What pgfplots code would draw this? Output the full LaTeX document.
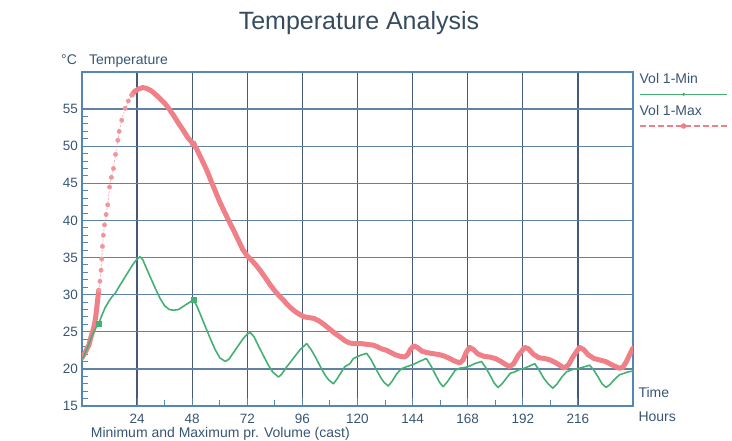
\documentclass[border=0pt]{standalone}
\usepackage{pgfplots}
\pgfplotsset{compat=1.18}
\usepackage{fontspec}
\setmainfont{Liberation Sans}
\definecolor{txt}{RGB}{55,85,115}
\definecolor{ttl}{RGB}{55,75,95}
\definecolor{frame}{RGB}{85,135,180}
\definecolor{vgrid}{RGB}{70,90,120}
\definecolor{hgrid}{RGB}{95,130,165}
\definecolor{mincol}{RGB}{70,175,115}
\definecolor{maxcol}{RGB}{240,128,136}
\begin{document}
\begin{tikzpicture}
\begin{axis}[
  scale only axis, width=551pt, height=334pt,
  at={(0,0)}, anchor=south west,
  xmin=0, xmax=240, ymin=15, ymax=60,
  xtick={24,48,...,216}, ytick={15,20,...,55},
  minor x tick num=1, minor y tick num=4,
  tick align=inside, tick pos=left,
  major tick length=8pt, minor tick length=6pt,
  grid=major,
  x grid style={vgrid, line width=1.25pt},
  y grid style={hgrid, line width=1.25pt},
  axis line style={frame, line width=1.4pt},
  tick style={frame, line width=1pt},
  /pgf/number format/assume math mode=true,
  ticklabel style={font=\fontsize{13.5}{16}\selectfont, text=txt, inner sep=0pt},
  xticklabel style={anchor=base, yshift=-18pt},
  yticklabel style={anchor=east, xshift=-4pt},
  legend style={at={(1.0109,1.002)}, anchor=north west, draw=none, fill=none,
    inner sep=0pt, outer sep=0pt, nodes={inner sep=0pt}, column sep=0pt},
]
% Vol 1-Max (red), rising part thick
\addplot[forget plot, maxcol, line width=5pt, line join=round, line cap=round] table {
x y
0 21.5
1 22.0
2 22.6
3 23.2
4 24.4
5 25.4
5.6 26.3
6.1 27.3
6.4 28.2
6.7 29.0
7.0 29.8
7.3 30.6
};
% sparse part with marks
\addplot[forget plot, maxcol!80, line width=0.6pt, dash pattern=on 2pt off 1.5pt, mark=*, mark size=2.1pt, mark options={solid, fill=maxcol!85, draw=none}] table {
x y
7.3 30.6
7.8 31.8
8.3 33.3
8.6 34.8
8.9 36.5
9.3 38.0
9.8 39.4
10.5 40.8
11.2 42.1
12 44.5
12.8 45.8
13.7 47.0
14.6 48.9
15.6 50.8
16.2 52.0
17.3 53.5
18.8 55.1
20.2 56.1
21.7 56.9
};
\addplot[forget plot, maxcol, line width=5pt, line join=round, line cap=round] table {
x y
21.7 56.9
23 57.4
24.5 57.7
26.5 57.9
28 57.8
30 57.5
32 57.0
34 56.4
36 55.8
38 55.0
40 54.1
42 53.1
44 52.2
46 51.2
48.5 50.3
50 49.6
52 48.3
54.3 46.8
56 45.5
58 44.0
60 42.5
62 41.2
64 39.9
66 38.7
68 37.4
70 36.1
72 35.2
74 34.6
76 33.9
78 33.1
80.5 32.0
82 31.3
84 30.5
86 29.8
87.7 29.3
89 28.8
91 28.2
93 27.7
95 27.3
97 27.0
99 26.9
101 26.8
103 26.5
104.5 26.2
106.6 25.7
108.5 25.2
110.5 24.7
112.4 24.3
114.5 23.8
116.5 23.5
118.2 23.4
120 23.4
122 23.4
124 23.3
126.9 23.2
128.5 23.0
130.5 22.7
132.7 22.5
134.5 22.2
136.5 21.9
138.5 21.7
140.5 21.6
141.8 21.9
143 22.6
144.5 23.1
146 22.9
148 22.4
150 22.2
152 22.1
154 22.0
156 21.9
158 21.7
160.2 21.4
162 21.1
164.5 20.8
166 21.2
167.3 22.2
168.8 22.9
170.5 22.6
172.5 22.0
175 21.7
177.5 21.6
180 21.4
182.5 21.0
184.5 20.6
186.3 20.3
188 20.7
190 21.8
192.8 22.9
194.5 22.7
196.5 22.0
199 21.5
201.5 21.4
204 21.2
206.5 20.8
208.5 20.4
210.2 20.1
212 20.6
214 21.7
216.7 22.9
218.5 22.6
220.5 21.9
223 21.4
225.5 21.2
228 21.0
230.5 20.6
232.5 20.3
234 20.1
235.5 20.2
237 20.9
238.5 21.9
240 22.8
};
\addplot[forget plot, only marks, maxcol, mark=*, mark size=3.2pt] coordinates {(48.5,50.3)};
% Vol 1-Min (green)
\addplot[forget plot, mincol, line width=1.6pt, line join=round] table {
x y
0 21.3
1 21.8
2 22.6
3 23.4
4 24.2
5 24.9
6 25.5
7.3 26.1
8.5 27.1
10 28.2
11.5 29.0
13 29.7
14.5 30.2
16 31.0
18 32.0
20 33.0
22 34.0
24 34.8
25.3 35.1
26.5 34.7
28 33.6
30 32.2
32 30.8
34 29.5
36 28.5
38 28.0
40 27.9
42 28.0
44 28.4
46 28.8
48.5 29.3
50 28.5
52 27.0
54 25.5
56 24.0
58 22.6
60 21.5
62.4 21.0
64 21.3
66 22.2
68 23.1
70 24.0
72 24.7
73.3 24.9
75 24.3
77 23.0
79 21.8
81 20.6
83 19.6
85.6 18.9
87 19.3
89 20.2
91 21.0
93 21.8
95 22.6
97.9 23.4
100 22.5
102 21.4
104 20.2
106 19.1
107.5 18.5
109.5 18.0
111 18.6
113 19.6
114.5 20.3
116.7 20.7
118.2 21.4
121 21.8
124 22.1
126 21.2
128 20.0
130 18.9
131.5 18.2
133.4 17.7
135 18.3
137 19.3
139 20.0
141.4 20.3
144.3 20.6
147 21.0
150 21.4
152 20.4
154 19.2
155.7 18.2
157.3 17.6
159 18.2
161 19.1
162.5 19.8
164.6 20.1
167 20.2
169 20.4
171 20.7
174 21.0
176 20.1
178 19.0
179.5 18.1
181.2 17.5
183 18.0
185 18.8
186.5 19.4
188.5 19.6
190.5 19.9
192.8 20.1
195 20.4
197.2 20.7
199 19.9
201 18.8
203 18.0
205.1 17.4
207 18.0
209 18.9
211 19.6
213.5 19.9
216.7 20.1
219 20.3
221.1 20.5
223 19.8
225 18.8
226.5 18.0
228.3 17.5
230 17.9
232 18.6
234.1 19.2
236 19.4
238 19.6
240 19.7
};
\addplot[forget plot, only marks, mincol, mark=square*, mark size=2.6pt] coordinates {(7.3,26.1) (48.5,29.3)};
\addlegendimage{legend image code/.code={
  \path[draw=none, fill=none] (0pt,12pt) rectangle (90pt,-48pt);
  \node[anchor=base west, inner sep=0pt, text=txt, font=\fontsize{14}{16}\selectfont] at (0pt,0pt) {Vol 1-Min};
  \draw[mincol, line width=0.8pt, solid] (0pt,-11pt) -- (87pt,-11pt);
  \fill[mincol] (44pt,-11pt) circle (1.4pt);
  \node[anchor=base west, inner sep=0pt, text=txt, font=\fontsize{14}{16}\selectfont] at (0pt,-31.7pt) {Vol 1-Max};
  \draw[maxcol, line width=1.3pt, dash pattern=on 6pt off 3pt] (0pt,-42.7pt) -- (87pt,-42.7pt);
  \fill[maxcol] (44pt,-42.7pt) circle (2.5pt);
}}
\addlegendentry{}
\end{axis}
\node[anchor=base, inner sep=0pt, font=\fontsize{25}{30}\selectfont, text=ttl] at (277pt,376.5pt) {Temperature Analysis};
\node[anchor=base west, inner sep=0pt, font=\fontsize{14}{16}\selectfont, text=txt] at (-21pt,341pt) {°C};
\node[anchor=base west, inner sep=0pt, font=\fontsize{14}{16}\selectfont, text=txt] at (7pt,341pt) {Temperature};
\node[anchor=base west, inner sep=0pt, font=\fontsize{14}{16}\selectfont, text=txt] at (556.3pt,8pt) {Time};
\node[anchor=base west, inner sep=0pt, font=\fontsize{14}{16}\selectfont, text=txt] at (556.3pt,-16pt) {Hours};
\node[anchor=base west, inner sep=0pt, font=\fontsize{14}{16}\selectfont, text=txt] at (8.7pt,-31.5pt) {Minimum and Maximum pr. Volume (cast)};
\pgfresetboundingbox
\path (-82pt,-35pt) rectangle (650pt,406pt);
\end{tikzpicture}
\end{document}
